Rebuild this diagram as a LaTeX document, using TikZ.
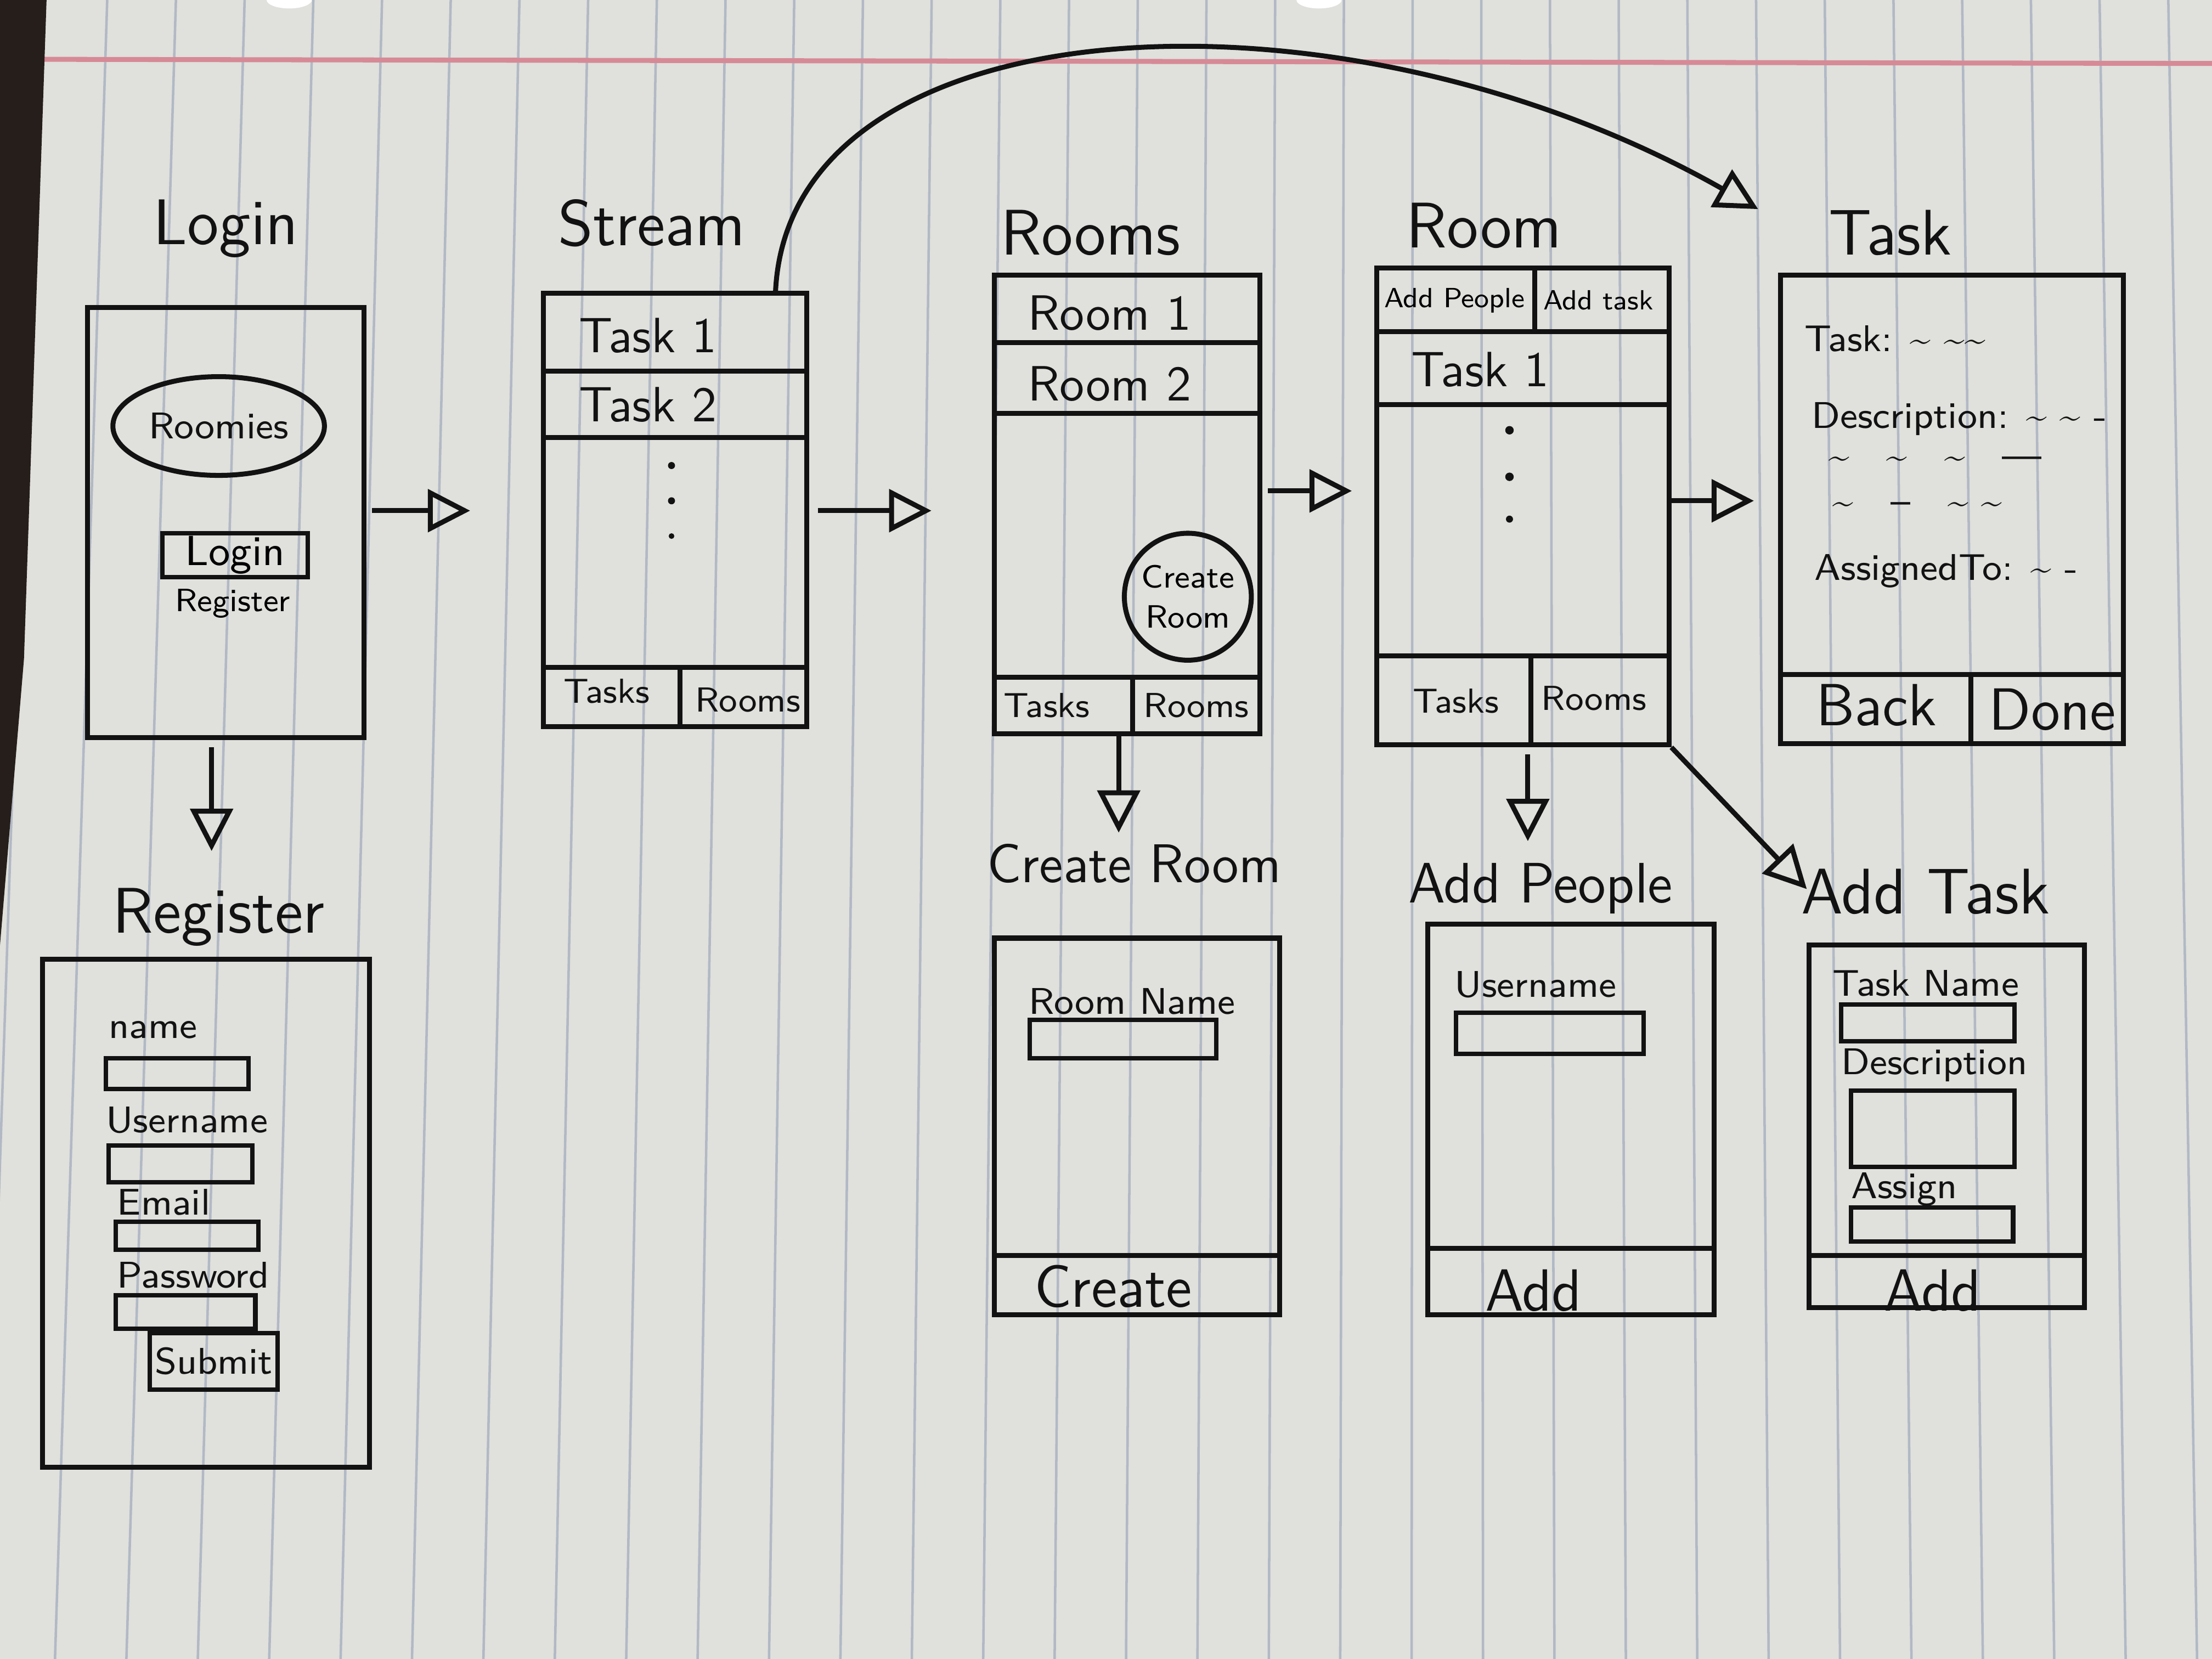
\documentclass[tikz,border=0pt]{standalone}
\usetikzlibrary{arrows.meta,shapes.geometric}
\definecolor{paper}{RGB}{224,224,220}
\definecolor{rule}{RGB}{178,185,197}
\definecolor{margin}{RGB}{214,138,150}
\definecolor{desk}{RGB}{38,30,26}
\definecolor{ink}{RGB}{18,18,18}
\newcommand{\squig}{\textasciitilde}
\begin{document}
\begin{tikzpicture}[>={Triangle[open,length=0.3cm,width=0.3cm]},
  screen/.style={draw=ink, line width=1pt, rectangle, inner sep=0pt},
  field/.style={draw=ink, line width=0.9pt, rectangle, inner sep=0pt},
  title/.style={font=\sffamily\fontsize{13}{15}\selectfont, text=ink},
  item/.style={font=\sffamily\fontsize{10}{12}\selectfont, text=ink},
  label/.style={font=\sffamily\fontsize{7.5}{9}\selectfont, text=ink, inner sep=1pt},
  tab/.style={font=\sffamily\fontsize{7}{8.5}\selectfont, text=ink},
  btn/.style={font=\sffamily\fontsize{12}{14}\selectfont, text=ink},
  flow/.style={->, draw=ink, line width=1pt}]
\useasboundingbox (0,0) rectangle (15.68,-11.76);
% paper
\fill[paper] (0,0) rectangle (15.68,-11.76);
\foreach \k in {0,...,32}{
  \pgfmathsetmacro\xt{(27.3+48.7*\k)/100}
  \pgfmathsetmacro\xb{\xt-0.40+0.55*\xt/14}
  \draw[rule, line width=0.5pt] (\xt,0) -- (\xb,-11.76);
}
\draw[margin, line width=1pt] (0,-0.42) -- (15.68,-0.45);
\fill[desk] (0,0) -- (0.33,0) -- (0.17,-4.67) -- (0,-6.7) -- cycle;
\fill[white] (2.05,0) ellipse (0.16 and 0.06) (9.35,0) ellipse (0.16 and 0.06);

% Login
\node[title] (logintitle) at (1.60,-1.62) {Login};
\node[screen, minimum width=1.96cm, minimum height=3.05cm] (login) at (1.60,-3.705) {};
\node[draw=ink, line width=1pt, ellipse, minimum width=0.94cm, minimum height=0.70cm, label] (logo) at (1.55,-3.02) {Roomies};
\node[field, minimum width=1.03cm, minimum height=0.31cm, font=\sffamily\fontsize{8.5}{10}\selectfont] (loginbtn) at (1.665,-3.935) {Login};
\node[font=\sffamily\fontsize{6.5}{8}\selectfont] (reglink) at (1.65,-4.28) {Register};

% Register
\node[title] (registertitle) at (1.55,-6.50) {Register};
\node[screen, minimum width=2.32cm, minimum height=3.60cm] (register) at (1.46,-8.60) {};
\node[label, anchor=west] (namelbl) at (0.73,-7.30) {name};
\node[field, minimum width=1.01cm, minimum height=0.22cm] (namebox) at (1.255,-7.61) {};
\node[label, anchor=west] (userlbl) at (0.71,-7.94) {Username};
\node[field, minimum width=1.02cm, minimum height=0.26cm] (userbox) at (1.28,-8.25) {};
\node[label, anchor=west] (maillbl) at (0.79,-8.52) {Email};
\node[field, minimum width=1.01cm, minimum height=0.20cm] (mailbox) at (1.325,-8.76) {};
\node[label, anchor=west] (passlbl) at (0.79,-9.04) {Password};
\node[field, minimum width=0.99cm, minimum height=0.24cm] (passbox) at (1.315,-9.30) {};
\node[field, minimum width=0.83cm, minimum height=0.40cm, label] (submit) at (1.515,-9.65) {Submit};

% Stream
\node[title] (streamtitle) at (4.62,-1.58) {Stream};
\node[screen, minimum width=1.87cm, minimum height=3.07cm] (stream) at (4.785,-3.615) {};
\draw[ink, line width=1pt] (stream.west |- 0,-2.63) -- (stream.east |- 0,-2.63);
\draw[ink, line width=1pt] (stream.west |- 0,-3.10) -- (stream.east |- 0,-3.10);
\node[item, anchor=west] (stask1) at (3.98,-2.38) {Task 1};
\node[item, anchor=west] (stask2) at (3.98,-2.87) {Task 2};
\fill[ink] (4.76,-3.30) circle (0.025) (4.76,-3.55) circle (0.025) (4.76,-3.80) circle (0.02);
\draw[ink, line width=1pt] (stream.west |- 0,-4.73) -- (stream.east |- 0,-4.73);
\draw[ink, line width=1pt] (4.82,-4.73) -- (stream.south -| 4.82,0);
\node[tab] (stabtasks) at (4.30,-4.90) {Tasks};
\node[tab] (stabrooms) at (5.30,-4.96) {Rooms};

% Rooms
\node[title] (roomstitle) at (7.73,-1.65) {Rooms};
\node[screen, minimum width=1.88cm, minimum height=3.25cm] (rooms) at (7.99,-3.575) {};
\draw[ink, line width=1pt] (rooms.west |- 0,-2.43) -- (rooms.east |- 0,-2.43);
\draw[ink, line width=1pt] (rooms.west |- 0,-2.93) -- (rooms.east |- 0,-2.93);
\node[item, anchor=west] (room1) at (7.16,-2.22) {Room 1};
\node[item, anchor=west] (room2) at (7.16,-2.72) {Room 2};
\node[draw=ink, line width=1pt, circle, minimum size=0.90cm, inner sep=0pt, align=center,
  font=\sffamily\fontsize{6.5}{8}\selectfont] (newroom) at (8.42,-4.23) {Create\\Room};
\draw[ink, line width=1pt] (rooms.west |- 0,-4.80) -- (rooms.east |- 0,-4.80);
\draw[ink, line width=1pt] (8.03,-4.80) -- (rooms.south -| 8.03,0);
\node[tab] (rtabtasks) at (7.42,-5.00) {Tasks};
\node[tab] (rtabrooms) at (8.48,-5.00) {Rooms};

% Create Room
\node[title, font=\sffamily\fontsize{11}{13}\selectfont] (createtitle) at (8.04,-6.12) {Create Room};
\node[screen, minimum width=2.02cm, minimum height=2.67cm] (createroom) at (8.06,-7.985) {};
\node[label, anchor=west] (rnamelbl) at (7.25,-7.10) {Room Name};
\node[field, minimum width=1.32cm, minimum height=0.27cm] (rnamebox) at (7.96,-7.365) {};
\draw[ink, line width=1pt] (createroom.west |- 0,-8.90) -- (createroom.east |- 0,-8.90);
\node[btn] (createbtn) at (7.89,-9.12) {Create};

% Room
\node[title] (roomtitle) at (10.52,-1.60) {Room};
\node[screen, minimum width=2.07cm, minimum height=3.38cm] (room) at (10.795,-3.59) {};
\draw[ink, line width=1pt] (room.west |- 0,-2.35) -- (room.east |- 0,-2.35);
\draw[ink, line width=1pt] (room.north -| 10.88,0) -- (10.88,-2.35);
\node[font=\sffamily\fontsize{5.6}{7}\selectfont] (addpeoplebtn) at (10.31,-2.13) {Add People};
\node[font=\sffamily\fontsize{5.6}{7}\selectfont] (addtaskbtn) at (11.33,-2.13) {Add task};
\draw[ink, line width=1pt] (room.west |- 0,-2.87) -- (room.east |- 0,-2.87);
\node[item, anchor=west] (rtask1) at (9.88,-2.62) {Task 1};
\fill[ink] (10.70,-3.05) circle (0.03) (10.70,-3.38) circle (0.03) (10.70,-3.68) circle (0.025);
\draw[ink, line width=1pt] (room.west |- 0,-4.65) -- (room.east |- 0,-4.65);
\draw[ink, line width=1pt] (10.85,-4.65) -- (room.south -| 10.85,0);
\node[tab] (mtabtasks) at (10.32,-4.97) {Tasks};
\node[tab] (mtabrooms) at (11.30,-4.95) {Rooms};

% Task
\node[title] (tasktitle) at (13.40,-1.65) {Task};
\node[screen, minimum width=2.43cm, minimum height=3.32cm] (task) at (13.835,-3.61) {};
\node[label, anchor=west] (tname) at (12.75,-2.40) {Task: \squig\ \squig\squig};
\node[label, anchor=west] (tdesc) at (12.80,-2.97) {Description: \squig\ \squig\ -};
\node[label, anchor=west] (tline1) at (12.92,-3.28) {\squig\quad\squig\quad\squig\quad ---};
\node[label, anchor=west] (tline2) at (12.95,-3.60) {\squig\quad --\quad\squig\ \squig};
\node[label, anchor=west] (tassign) at (12.82,-4.05) {AssignedTo: \squig\ -};
\draw[ink, line width=1pt] (task.west |- 0,-4.78) -- (task.east |- 0,-4.78);
\draw[ink, line width=1pt] (13.97,-4.78) -- (task.south -| 13.97,0);
\node[btn] (backbtn) at (13.30,-5.00) {Back};
\node[btn] (donebtn) at (14.55,-5.03) {Done};

% Add People
\node[title, font=\sffamily\fontsize{11.5}{13}\selectfont] (peopletitle) at (10.92,-6.30) {Add People};
\node[screen, minimum width=2.03cm, minimum height=2.77cm] (addpeople) at (11.135,-7.935) {};
\node[label, anchor=west] (puserlbl) at (10.27,-6.98) {Username};
\node[field, minimum width=1.33cm, minimum height=0.29cm] (puserbox) at (10.985,-7.325) {};
\draw[ink, line width=1pt] (addpeople.west |- 0,-8.85) -- (addpeople.east |- 0,-8.85);
\node[btn] (paddbtn) at (10.87,-9.15) {Add};

% Add Task
\node[title] (newtasktitle) at (13.65,-6.32) {Add Task};
\node[screen, minimum width=1.95cm, minimum height=2.57cm] (addtask) at (13.80,-7.985) {};
\node[label, anchor=west] (ntnamelbl) at (12.95,-6.97) {Task Name};
\node[field, minimum width=1.23cm, minimum height=0.26cm] (ntnamebox) at (13.665,-7.25) {};
\node[label, anchor=west] (ntdesclbl) at (13.01,-7.55) {Description};
\node[field, minimum width=1.16cm, minimum height=0.54cm] (ntdescbox) at (13.70,-8.00) {};
\node[label, anchor=west] (ntassignlbl) at (13.08,-8.43) {Assign};
\node[field, minimum width=1.15cm, minimum height=0.24cm] (ntassignbox) at (13.695,-8.68) {};
\draw[ink, line width=1pt] (addtask.west |- 0,-8.90) -- (addtask.east |- 0,-8.90);
\node[btn] (taddbtn) at (13.70,-9.15) {Add};

% flows
\draw[flow, shorten <=0.04cm, shorten >=0.5cm] (login.east |- 0,-3.62) -- (stream.west |- 0,-3.62);
\draw[flow, shorten <=0.05cm, shorten >=0.75cm] (login.south -| 1.50,0) -- (register.north -| 1.50,0);
\draw[flow, shorten <=0.06cm, shorten >=0.43cm] (stream.east |- 0,-3.62) -- (rooms.west |- 0,-3.62);
\draw[flow, shorten <=0.04cm, shorten >=0.16cm] (rooms.east |- 0,-3.48) -- (room.west |- 0,-3.48);
\draw[flow, shorten >=0.17cm] (room.east |- 0,-3.55) -- (task.west |- 0,-3.55);
\draw[flow, shorten >=0.73cm] (rooms.south -| 7.93,0) -- (createroom.north -| 7.93,0);
\draw[flow, shorten <=0.05cm, shorten >=0.57cm] (room.south -| 10.83,0) -- (addpeople.north -| 10.83,0);
\draw[flow] (room.south east) -- ([yshift=0.38cm]addtask.north west);
\draw[flow] ([xshift=-0.24cm]stream.north east) .. controls (5.60,0) and (9.50,0.20) .. ([xshift=-0.14cm,yshift=0.45cm]task.north west);
\end{tikzpicture}
\end{document}
